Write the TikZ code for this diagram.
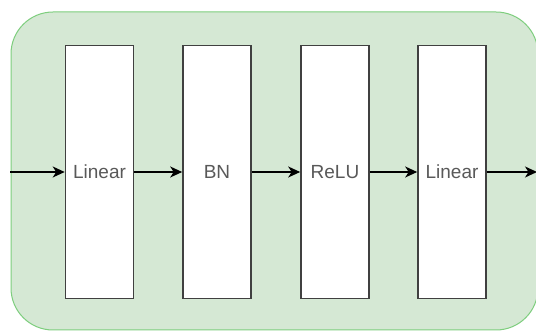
\documentclass[tikz,border=0pt]{standalone}
\usepackage{fontspec}
\setmainfont{Liberation Sans}
\usetikzlibrary{arrows.meta}
\begin{document}
\begin{tikzpicture}[x=1pt,y=1pt,
  layer/.style={draw=black!75, line width=1.6pt, fill=white, minimum width=68pt, minimum height=253pt, inner sep=0pt, text=black!65, font=\fontsize{19}{22}\selectfont},
  conn/.style={draw=black, line width=1.5pt, -{Stealth[length=12pt,width=11pt,inset=3.5pt]}}]
\useasboundingbox (0,0) rectangle (536,332);
\fill[white] (0,0) rectangle (536,332);
\draw[draw=green!45!gray!70, fill={rgb,255:red,213;green,232;blue,212}, line width=1pt, rounded corners=42pt] (11,2) rectangle (538,320);
\node[layer] (l1) at (99.5,160) {Linear};
\node[layer] (bn) at (217,160) {BN};
\node[layer] (re) at (335,160) {ReLU};
\node[layer] (l2) at (452,160) {Linear};
\coordinate (in) at (10,160);
\coordinate (out) at (537,160);
\draw[conn] (in) -- (l1);
\draw[conn] (l1) -- (bn);
\draw[conn] (bn) -- (re);
\draw[conn] (re) -- (l2);
\draw[conn] (l2) -- (out);
\end{tikzpicture}
\end{document}
